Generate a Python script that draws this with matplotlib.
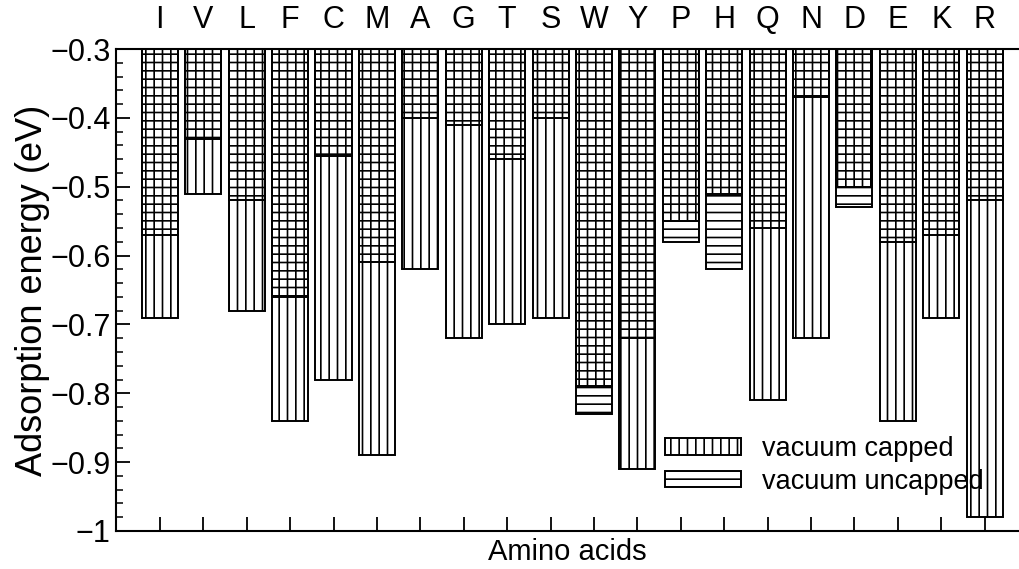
import numpy as np
import matplotlib
matplotlib.use("Agg")
import matplotlib.pyplot as plt
from matplotlib.ticker import MultipleLocator

# Amino acids and adsorption energies (eV)
amino_acids = ["I", "V", "L", "F", "C", "M", "A", "G", "T", "S",
               "W", "Y", "P", "H", "Q", "N", "D", "E", "K", "R"]
vacuum_capped = [-0.69, -0.51, -0.68, -0.84, -0.78, -0.89, -0.62, -0.72, -0.70, -0.69,
                 -0.79, -0.91, -0.55, -0.51, -0.81, -0.72, -0.50, -0.84, -0.69, -0.98]
vacuum_uncapped = [-0.57, -0.43, -0.52, -0.66, -0.455, -0.61, -0.40, -0.41, -0.46, -0.40,
                   -0.83, -0.72, -0.58, -0.62, -0.56, -0.37, -0.53, -0.58, -0.57, -0.52]

plt.rcParams["font.family"] = ["Liberation Sans", "DejaVu Sans"]
plt.rcParams["hatch.linewidth"] = 1.2
plt.rcParams["hatch.color"] = "black"

base = -0.3
fig = plt.figure(figsize=(10.19, 5.69), dpi=100)
ax = fig.add_axes([116 / 1019, 38 / 569, 1 - 116 / 1019, 482 / 569])

x = np.arange(len(amino_acids))
capped = np.array(vacuum_capped)
uncapped = np.array(vacuum_uncapped)

ax.bar(x, uncapped - base, bottom=base, width=0.83, facecolor="none",
       edgecolor="black", linewidth=1.4, hatch="--", label="vacuum uncapped", zorder=2)
ax.bar(x, capped - base, bottom=base, width=0.83, facecolor="none",
       edgecolor="black", linewidth=1.4, hatch="||", label="vacuum capped", zorder=3)

ax.set_xlim(-1.01, 19.79)
ax.set_ylim(-1.0, -0.3)

ax.yaxis.set_minor_locator(MultipleLocator(0.02))
ax.set_yticks(np.arange(-1.0, -0.29, 0.1))
ax.set_yticklabels(["\u22121", "\u22120.9", "\u22120.8", "\u22120.7", "\u22120.6",
                    "\u22120.5", "\u22120.4", "\u22120.3"])
ax.tick_params(axis="y", which="major", direction="in", length=10, width=1.3,
               labelsize=22, pad=4)
ax.tick_params(axis="y", which="minor", direction="in", length=5, width=1.1)

ax.set_xticks(x)
ax.tick_params(axis="x", which="major", direction="in", length=10, width=1.3,
               labelbottom=False)

top = ax.secondary_xaxis("top")
top.set_xticks(x)
top.set_xticklabels(amino_acids)
top.tick_params(length=0, labelsize=22, pad=10)
top.spines["top"].set_visible(False)

for side in ("left", "bottom", "top"):
    ax.spines[side].set_linewidth(1.5)
ax.spines["right"].set_visible(False)

ax.set_xlabel("Amino acids", fontsize=21, labelpad=5)
ax.set_ylabel("Adsorption energy (eV)", fontsize=26, labelpad=0)

handles, labels = ax.get_legend_handles_labels()
ax.legend(handles[::-1], labels[::-1], loc="upper left",
          bbox_to_anchor=(665 / 1019, 1 - 436 / 569), bbox_transform=fig.transFigure,
          frameon=False, fontsize=19.5, handlelength=2.8, handleheight=0.56,
          handletextpad=0.8, labelspacing=0.25, borderpad=0, borderaxespad=0)

fig.savefig("out.png", dpi=100)
